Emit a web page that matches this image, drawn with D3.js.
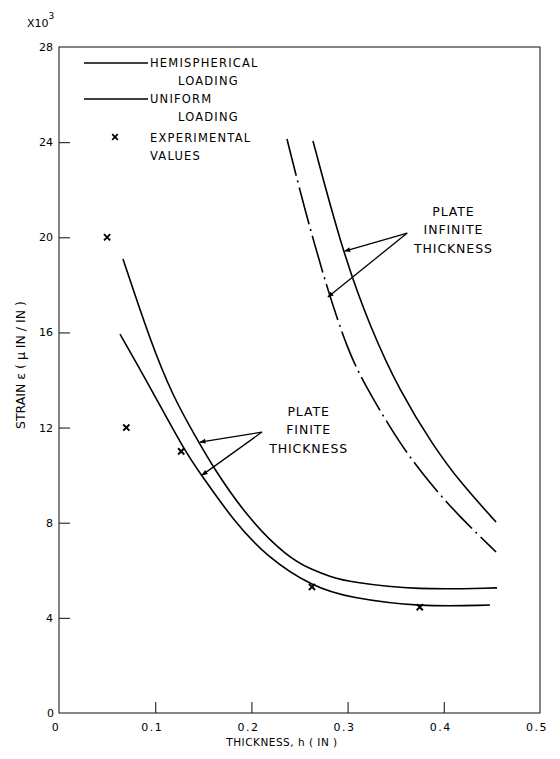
<!DOCTYPE html>
<html>
<head>
<meta charset="utf-8">
<script src="https://cdn.jsdelivr.net/npm/d3@7/dist/d3.min.js"></script>
<style>
  html, body { margin: 0; padding: 0; background: #fff; }
  svg { display: block; }
  text { font-family: "DejaVu Sans", sans-serif; fill: #000; }
</style>
</head>
<body>
<div id="chart"></div>
<script>
// ---------- DATA ----------
const xTicks = [0, 0.1, 0.2, 0.3, 0.4, 0.5];
const xTickLabels = ["0", "0.1", "0.2", "0.3", "0.4", "0.5"];
const yTicks = [0, 4, 8, 12, 16, 20, 24, 28];
const yTickLabels = ["0", "4", "8", "12", "16", "20", "24", "28"];

// Plate finite thickness, hemispherical loading (upper solid curve)
const finiteHemiH = [0.0665, 0.0946, 0.1185, 0.1445, 0.1601, 0.1954, 0.2370, 0.2640, 0.2817, 0.3025, 0.3721, 0.4553];
const finiteHemiS = [19.09, 15.68, 13.29, 11.44, 10.34, 8.24, 6.56, 6.00, 5.74, 5.50, 5.17, 5.26];

// Plate finite thickness, uniform loading (lower solid curve)
const finiteUnifH = [0.0634, 0.0946, 0.1300, 0.1487, 0.1810, 0.2160, 0.2640, 0.3025, 0.3750, 0.4480];
const finiteUnifS = [15.93, 13.71, 11.06, 9.96, 8.11, 6.56, 5.30, 4.84, 4.46, 4.54];

// Plate infinite thickness, hemispherical loading (solid)
const infHemiH = [0.2640, 0.2952, 0.3233, 0.3545, 0.3888, 0.4168, 0.4543];
const infHemiS = [24.05, 19.34, 16.23, 13.50, 11.25, 9.71, 8.03];

// Plate infinite thickness, uniform loading (dash-dot)
const infUnifH = [0.2370, 0.2536, 0.2796, 0.3004, 0.3150, 0.3545, 0.3888, 0.4168, 0.4543];
const infUnifS = [24.13, 21.44, 17.70, 15.26, 14.00, 11.27, 9.50, 8.24, 6.77];

// Experimental values
const expH = [0.050, 0.070, 0.127, 0.263, 0.375];
const expS = [20.0, 12.0, 11.0, 5.3, 4.45];

// Annotations (data coordinates)
const annoInfiniteLines = ["PLATE", "INFINITE", "THICKNESS"];
const annoInfiniteAt = [0.41, 20.9];
const annoInfiniteFrom = [0.362, 20.18];
const annoInfiniteTo = [[0.297, 19.42], [0.2796, 17.49]];

const annoFiniteLines = ["PLATE", "FINITE", "THICKNESS"];
const annoFiniteAt = [0.2595, 12.5];
const annoFiniteFrom = [0.211, 11.81];
const annoFiniteTo = [[0.1466, 11.39], [0.1487, 10.0]];

const legendLabels = [["HEMISPHERICAL", "LOADING"], ["UNIFORM", "LOADING"], ["EXPERIMENTAL", "VALUES"]];

// ---------- CHART ----------
const W = 560, H = 759;
const svg = d3.select("#chart").append("svg").attr("width", W).attr("height", H);
svg.append("rect").attr("width", W).attr("height", H).attr("fill", "#fff");

const x = d3.scaleLinear().domain([0, 0.5]).range([59, 540]);
const y = d3.scaleLinear().domain([0, 28]).range([713, 47]);

const defs = svg.append("defs");
defs.append("marker")
  .attr("id", "arrow").attr("viewBox", "0 0 10 10")
  .attr("refX", 9).attr("refY", 5)
  .attr("markerWidth", 8).attr("markerHeight", 6)
  .attr("markerUnits", "userSpaceOnUse")
  .attr("orient", "auto")
  .append("path").attr("d", "M0,1 L10,5 L0,9 Z").attr("fill", "#000");

// frame
svg.append("rect")
  .attr("x", x(0)).attr("y", y(28))
  .attr("width", x(0.5) - x(0)).attr("height", y(0) - y(28))
  .attr("fill", "none").attr("stroke", "#222").attr("stroke-width", 1.1);

// y axis ticks (inward)
const yAxis = d3.axisRight(y).tickValues(yTicks.filter(d => d > 0 && d < 28))
  .tickSize(11).tickFormat("");
svg.append("g").attr("transform", `translate(${x(0)},0)`).call(yAxis)
  .call(g => g.select(".domain").remove())
  .call(g => g.selectAll("line").attr("stroke", "#222").attr("stroke-width", 1.1));

// x axis ticks (inward)
const xAxis = d3.axisTop(x).tickValues(xTicks.filter(d => d > 0 && d < 0.5))
  .tickSize(11).tickFormat("");
svg.append("g").attr("transform", `translate(0,${y(0)})`).call(xAxis)
  .call(g => g.select(".domain").remove())
  .call(g => g.selectAll("line").attr("stroke", "#222").attr("stroke-width", 1.1));

// y tick labels
svg.append("g").selectAll("text").data(yTicks).join("text")
  .attr("x", (d) => d === 0 ? x(0) - 5 : x(0) - 6)
  .attr("y", d => y(d) + 4)
  .attr("text-anchor", "end")
  .attr("font-size", 11)
  .text((d, i) => yTickLabels[i]);

// x tick labels
svg.append("g").selectAll("text").data(xTicks).join("text")
  .attr("x", d => x(d) - 3)
  .attr("y", y(0) + 18)
  .attr("text-anchor", "middle")
  .attr("font-size", 11)
  .attr("letter-spacing", 1.5)
  .text((d, i) => xTickLabels[i]);

// multiplier
const mult = svg.append("text").attr("x", 27).attr("y", 27).attr("font-size", 11);
mult.append("tspan").text("X10");
mult.append("tspan").attr("dy", -8).attr("font-size", 9).text("3");

// axis titles
svg.append("text")
  .attr("x", 282).attr("y", 746)
  .attr("text-anchor", "middle").attr("font-size", 10.5).attr("letter-spacing", 0.5)
  .text("THICKNESS,  h  ( IN )");

svg.append("text")
  .attr("transform", `translate(25,365) rotate(-90)`)
  .attr("text-anchor", "middle").attr("font-size", 12.5)
  .text("STRAIN ε ( μ IN / IN )");

// curves
const line = d3.line().x(d => x(d[0])).y(d => y(d[1])).curve(d3.curveBasis);
const zip = (a, b) => a.map((v, i) => [v, b[i]]);

const curves = [
  { pts: zip(finiteHemiH, finiteHemiS), dash: null },
  { pts: zip(finiteUnifH, finiteUnifS), dash: null },
  { pts: zip(infHemiH, infHemiS), dash: null },
  { pts: zip(infUnifH, infUnifS), dash: "38,5,2,5" }
];
svg.append("g").selectAll("path").data(curves).join("path")
  .attr("d", d => line(d.pts))
  .attr("fill", "none").attr("stroke", "#000").attr("stroke-width", 1.6)
  .attr("stroke-dasharray", d => d.dash);

// experimental markers
const cross = (cx, cy, r) => `M${cx - r},${cy - r}L${cx + r},${cy + r}M${cx - r},${cy + r}L${cx + r},${cy - r}`;
svg.append("g").selectAll("path").data(zip(expH, expS)).join("path")
  .attr("d", d => cross(x(d[0]), y(d[1]), 3.1))
  .attr("stroke", "#000").attr("stroke-width", 1.9).attr("fill", "none");

// annotations
function annotate(lines, at, from, tos) {
  const g = svg.append("g");
  g.selectAll("text").data(lines).join("text")
    .attr("x", x(at[0])).attr("y", (d, i) => y(at[1]) + i * 18.5)
    .attr("text-anchor", "middle").attr("font-size", 12.5).attr("letter-spacing", 0.9)
    .text(d => d);
  g.selectAll("line").data(tos).join("line")
    .attr("x1", x(from[0])).attr("y1", y(from[1]))
    .attr("x2", d => x(d[0])).attr("y2", d => y(d[1]))
    .attr("stroke", "#000").attr("stroke-width", 1.3)
    .attr("marker-end", "url(#arrow)");
}
annotate(annoInfiniteLines, annoInfiniteAt, annoInfiniteFrom, annoInfiniteTo);
annotate(annoFiniteLines, annoFiniteAt, annoFiniteFrom, annoFiniteTo);

// legend
const lg = svg.append("g");
const legY = [63, 99, 137];
const legTextY = [67, 103, 142];
[0, 1].forEach(i => {
  lg.append("line").attr("x1", 84).attr("x2", 148).attr("y1", legY[i]).attr("y2", legY[i])
    .attr("stroke", "#000").attr("stroke-width", 1.4);
});
lg.append("path").attr("d", cross(115, legY[2], 2.8)).attr("stroke", "#000").attr("stroke-width", 1.7);
legendLabels.forEach((pair, i) => {
  lg.append("text").attr("x", 150).attr("y", legTextY[i])
    .attr("font-size", 11.5).attr("letter-spacing", 1.2).text(pair[0]);
  lg.append("text").attr("x", i < 2 ? 178 : 150).attr("y", legTextY[i] + 18)
    .attr("font-size", 11.5).attr("letter-spacing", 1.2).text(pair[1]);
});
</script>
</body>
</html>
